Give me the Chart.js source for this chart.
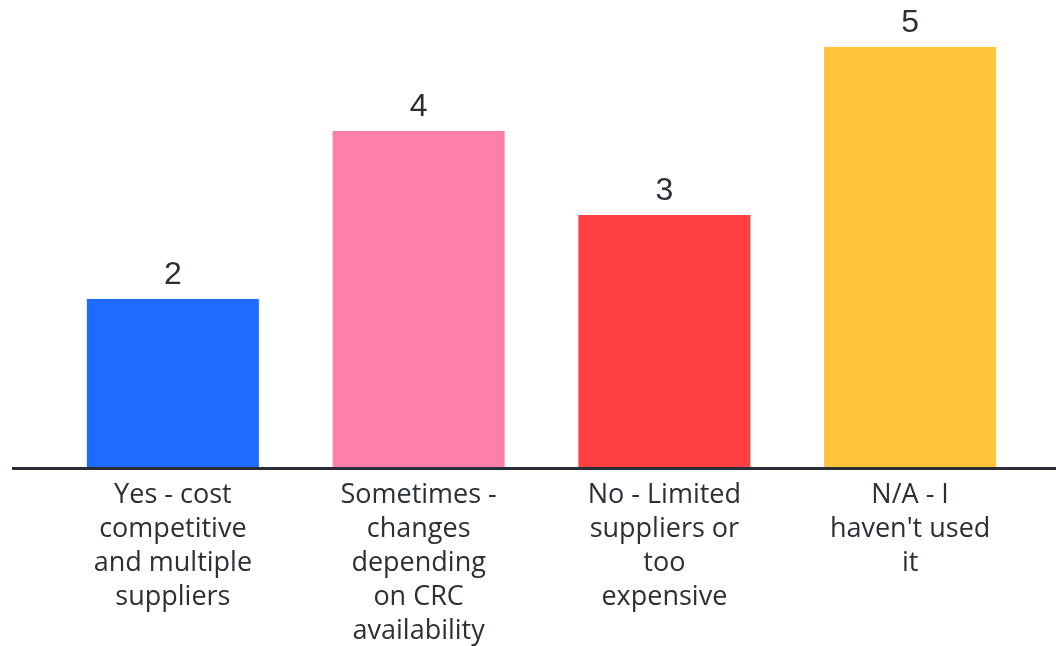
<!DOCTYPE html>
<html>
<head>
<meta charset="utf-8">
<script src="https://cdn.jsdelivr.net/npm/chart.js@4"></script>
<style>
    html, body { margin: 0; padding: 0; background: #ffffff; }
    #wrap { width: 1056px; height: 646px; }
</style>
</head>
<body>
<div id="wrap"><canvas id="answersChart"></canvas></div>
<script>
// Survey answers
const categories = [
    ['Yes - cost', 'competitive', 'and multiple', 'suppliers'],
    ['Sometimes -', 'changes', 'depending', 'on CRC', 'availability'],
    ['No - Limited', 'suppliers or', 'too', 'expensive'],
    ['N/A - I', "haven't used", 'it']
];
const responses = [2, 4, 3, 5];
const barColors = ['#1f6bff', '#ff7eaa', '#ff4040', '#ffc43a'];

const textColor = '#2b2f36';
const labelFont = '"Open Sans", Lato, sans-serif';
const numberFont = '"Liberation Sans", Arial, sans-serif';

// Count above each bar
const valueLabels = {
    id: 'valueLabels',
    afterDatasetsDraw(chart) {
        const ctx = chart.ctx;
        const meta = chart.getDatasetMeta(0);
        ctx.save();
        ctx.font = '32px ' + numberFont;
        ctx.fillStyle = textColor;
        ctx.textAlign = 'center';
        ctx.textBaseline = 'middle';
        meta.data.forEach((bar, i) => {
            ctx.fillText(String(responses[i]), bar.x, bar.y - 24);
        });
        ctx.restore();
    }
};

// Baseline running across the full width
const baseline = {
    id: 'baseline',
    afterDatasetsDraw(chart) {
        const ctx = chart.ctx;
        const y = chart.scales.y.getPixelForValue(0) + 1.5;
        ctx.save();
        ctx.strokeStyle = '#2a2d35';
        ctx.lineWidth = 3;
        ctx.beginPath();
        ctx.moveTo(12, y);
        ctx.lineTo(chart.width, y);
        ctx.stroke();
        ctx.restore();
    }
};

new Chart(document.getElementById('answersChart'), {
    type: 'bar',
    data: {
        labels: categories,
        datasets: [{
            data: responses,
            backgroundColor: barColors,
            borderWidth: 0,
            categoryPercentage: 0.7,
            barPercentage: 1.0
        }]
    },
    options: {
        responsive: true,
        maintainAspectRatio: false,
        animation: false,
        layout: { padding: { top: 47, left: 50, right: 23, bottom: 0 } },
        plugins: {
            legend: { display: false },
            tooltip: { enabled: false }
        },
        scales: {
            y: {
                display: false,
                min: 0,
                max: 5
            },
            x: {
                grid: { display: false, drawTicks: false },
                border: { display: false },
                ticks: {
                    color: textColor,
                    font: { family: labelFont, size: 27, lineHeight: 1.26 },
                    padding: 11,
                    maxRotation: 0,
                    autoSkip: false
                },
                afterFit(scale) {
                    scale.height = 179;
                }
            }
        }
    },
    plugins: [valueLabels, baseline]
});
</script>
</body>
</html>
